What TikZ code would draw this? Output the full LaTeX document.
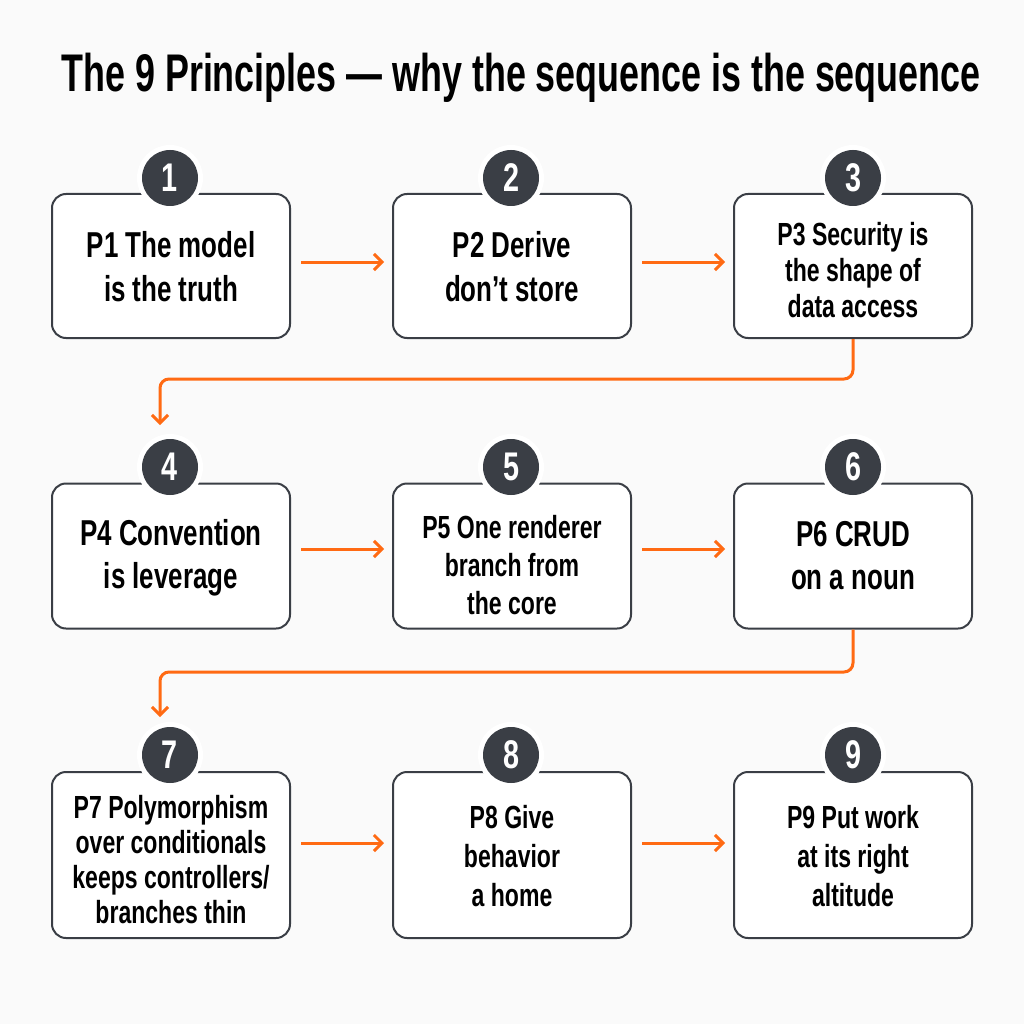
\documentclass[tikz,border=0pt]{standalone}
\usepackage{fontspec}
\setmainfont{Liberation Sans}[FakeStretch=0.72]
\usetikzlibrary{arrows.meta}
\definecolor{ink}{HTML}{3A3E45}
\definecolor{org}{HTML}{FF6A13}
\definecolor{bg}{HTML}{FAFAFA}
\begin{document}
\begin{tikzpicture}[x=1pt,y=-1pt,
 box/.style={draw=ink, line width=2pt, rounded corners=14pt, fill=white, minimum width=238pt, inner sep=0pt},
 txt/.style={align=center, inner sep=0pt},
 num/.style={circle, fill=ink, preaction={draw=white, line width=10pt}, minimum size=56pt, text=white, font=\bfseries\fontsize{40}{40}\selectfont, inner sep=0pt},
 flow/.style={draw=org, line width=3pt, -{Straight Barb[length=8pt,width=16pt,line width=3pt]}, rounded corners=9pt}]
\useasboundingbox (0,0) rectangle (1024,1024);
\fill[bg] (0,0) rectangle (1024,1024);
\node[font=\bfseries\fontsize{53}{53}\selectfont] (title) at (521,78) {\scalebox{0.94}[1]{The 9 Principles — why the sequence is the sequence}};
% row 1
\node[box, minimum height=144pt] (b1) at (171,266) {};
\node[box, minimum height=144pt] (b2) at (512,266) {};
\node[box, minimum height=144pt] (b3) at (853,266) {};
\node[txt, font=\bfseries\fontsize{36}{44}\selectfont] (b1t) at ([yshift=-1]b1.center) {P1 The model\\is the truth};
\node[txt, font=\bfseries\fontsize{36}{44}\selectfont] (b2t) at ([yshift=-1]b2.center) {P2 Derive\\don’t store};
\node[txt, font=\bfseries\fontsize{32}{36}\selectfont] (b3t) at ([yshift=-4]b3.center) {P3 Security is\\the shape of\\data access};
% row 2
\node[box, minimum height=145pt] (b4) at (171,556) {};
\node[box, minimum height=145pt] (b5) at (512,556) {};
\node[box, minimum height=145pt] (b6) at (853,556) {};
\node[txt, font=\bfseries\fontsize{36}{43}\selectfont] (b4t) at ([yshift=-2]b4.center) {P4 Convention\\is leverage};
\node[txt, font=\bfseries\fontsize{32}{38}\selectfont] (b5t) at ([yshift=-9]b5.center) {P5 One renderer\\branch from\\the core};
\node[txt, font=\bfseries\fontsize{36}{43}\selectfont] (b6t) at (b6.center) {P6 CRUD\\on a noun};
% row 3
\node[box, minimum height=166pt] (b7) at (171,855) {};
\node[box, minimum height=166pt] (b8) at (512,855) {};
\node[box, minimum height=166pt] (b9) at (853,855) {};
\node[txt, font=\bfseries\fontsize{32}{35}\selectfont] (b7t) at ([yshift=-5]b7.center) {P7 Polymorphism\\over conditionals\\keeps controllers/\\branches thin};
\node[txt, font=\bfseries\fontsize{32}{39}\selectfont] (b8t) at ([yshift=-1]b8.center) {P8 Give\\behavior\\a home};
\node[txt, font=\bfseries\fontsize{32}{39}\selectfont] (b9t) at ([yshift=-1]b9.center) {P9 Put work\\at its right\\altitude};
% numbers
\node[num] (c1) at (170,178) {1};
\node[num] (c2) at (511,178) {2};
\node[num] (c3) at (853,178) {3};
\node[num] (c4) at (170,467) {4};
\node[num] (c5) at (511,467) {5};
\node[num] (c6) at (853,467) {6};
\node[num] (c7) at (170,755) {7};
\node[num] (c8) at (511,755) {8};
\node[num] (c9) at (853,755) {9};
% arrows
\draw[flow] ([shift={(10,-4)}]b1.east) -- ([shift={(-8,-4)}]b2.west);
\draw[flow] ([shift={(10,-4)}]b2.east) -- ([shift={(-8,-4)}]b3.west);
\draw[flow] ([shift={(10,-7)}]b4.east) -- ([shift={(-8,-7)}]b5.west);
\draw[flow] ([shift={(10,-7)}]b5.east) -- ([shift={(-8,-7)}]b6.west);
\draw[flow] ([shift={(10,-12)}]b7.east) -- ([shift={(-8,-12)}]b8.west);
\draw[flow] ([shift={(10,-12)}]b8.east) -- ([shift={(-8,-12)}]b9.west);
\coordinate (t4) at (160,425);
\coordinate (t7) at (160,717);
\draw[flow] (b3.south) -- (853,379) -- (160,379) -- (t4);
\draw[flow] (b6.south) -- (853,672) -- (160,672) -- (t7);
\end{tikzpicture}
\end{document}
